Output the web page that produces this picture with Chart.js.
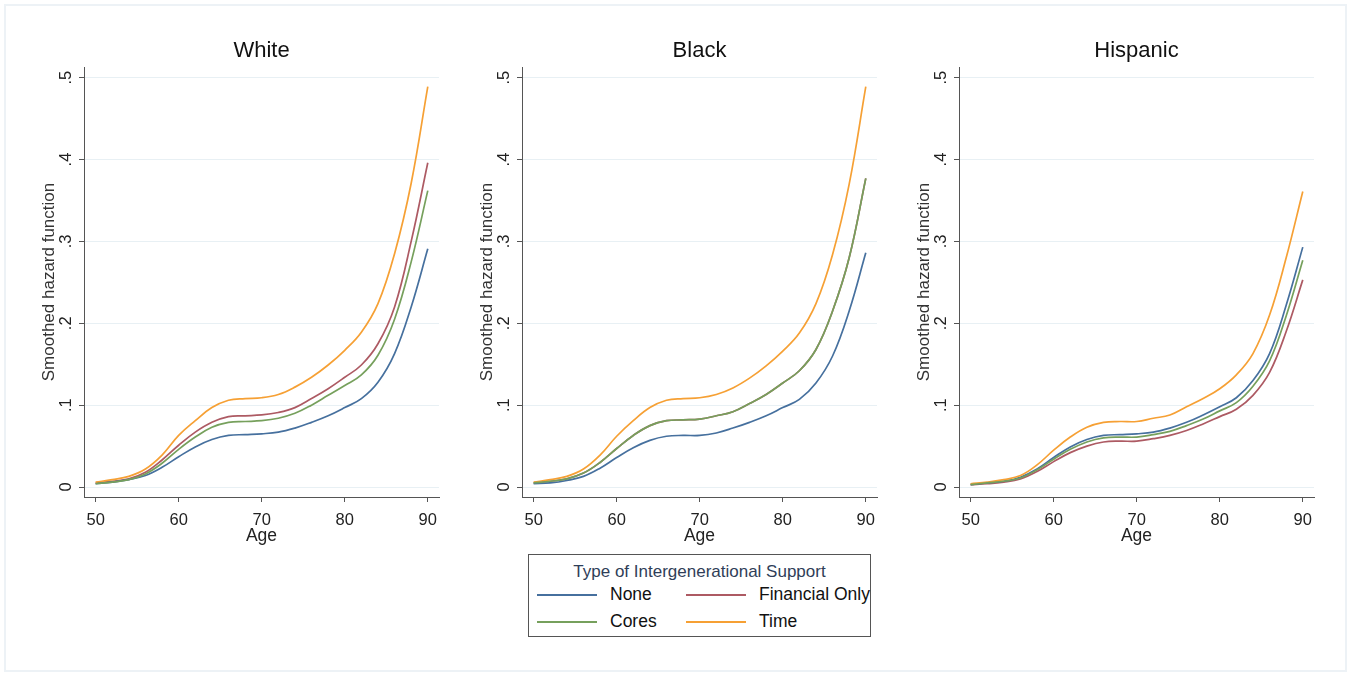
<!DOCTYPE html>
<html>
<head>
<meta charset="utf-8">
<script src="https://cdn.jsdelivr.net/npm/chart.js@4/dist/chart.umd.min.js"></script>
<style>
  html, body { margin: 0; padding: 0; background: #fff; }
  body { width: 1351px; height: 673px; position: relative; overflow: hidden; font-family: Arial, "Liberation Sans", sans-serif; }
  #frame { position: absolute; left: 4px; top: 4px; width: 1339px; height: 664px; border: 2px solid #edf2f6; }
  canvas { position: absolute; }
  #legend { position: absolute; left: 528px; top: 554px; width: 341px; height: 81px; border: 1px solid #555; background: #fff; }
  #legend .t { position: absolute; left: 0; width: 100%; text-align: center; top: 7px; font-size: 17px; line-height: 20px; color: #2f3e58; white-space: nowrap; }
  #legend .ln { position: absolute; height: 2px; width: 60px; }
  #legend .lb { position: absolute; font-size: 17.5px; line-height: 20px; color: #111; white-space: nowrap; }
</style>
</head>
<body>
<div id="frame"></div>
<canvas id="whiteChart" width="437" height="517"></canvas>
<canvas id="blackChart" width="437" height="517"></canvas>
<canvas id="hispanicChart" width="437" height="517"></canvas>
<div id="legend"></div>
<script>
// Data (every 2 years of age)
const ages = [50, 52, 54, 56, 58, 60, 62, 64, 66, 68, 70, 72, 74, 76, 78, 80, 82, 84, 86, 88, 90];

const whiteNone      = [0.004, 0.006, 0.009, 0.014, 0.024, 0.037, 0.049, 0.058, 0.063, 0.064, 0.065, 0.067, 0.072, 0.079, 0.087, 0.097, 0.108, 0.128, 0.163, 0.220, 0.291];
const whiteFinancial = [0.005, 0.007, 0.010, 0.018, 0.033, 0.051, 0.067, 0.079, 0.086, 0.087, 0.088, 0.091, 0.097, 0.108, 0.120, 0.134, 0.149, 0.175, 0.220, 0.300, 0.396];
const whiteCores     = [0.004, 0.006, 0.009, 0.016, 0.029, 0.046, 0.061, 0.073, 0.079, 0.080, 0.081, 0.084, 0.090, 0.100, 0.112, 0.124, 0.137, 0.161, 0.205, 0.275, 0.362];
const whiteTime      = [0.006, 0.009, 0.013, 0.022, 0.039, 0.063, 0.081, 0.097, 0.106, 0.108, 0.109, 0.113, 0.122, 0.134, 0.149, 0.167, 0.189, 0.224, 0.285, 0.371, 0.489];

const blackNone      = [0.004, 0.005, 0.008, 0.013, 0.023, 0.036, 0.048, 0.057, 0.062, 0.063, 0.063, 0.066, 0.072, 0.079, 0.087, 0.097, 0.107, 0.127, 0.160, 0.215, 0.286];
const blackFinancial = [0.005, 0.007, 0.010, 0.017, 0.030, 0.047, 0.063, 0.075, 0.081, 0.082, 0.083, 0.087, 0.092, 0.102, 0.113, 0.127, 0.142, 0.168, 0.215, 0.280, 0.377];
const blackCores     = [0.005, 0.007, 0.010, 0.017, 0.030, 0.047, 0.063, 0.075, 0.081, 0.082, 0.083, 0.087, 0.092, 0.102, 0.113, 0.127, 0.142, 0.168, 0.215, 0.280, 0.377];
const blackTime      = [0.006, 0.009, 0.013, 0.022, 0.039, 0.062, 0.081, 0.097, 0.106, 0.108, 0.109, 0.113, 0.121, 0.133, 0.148, 0.166, 0.188, 0.224, 0.284, 0.370, 0.489];

const hispNone       = [0.003, 0.005, 0.007, 0.012, 0.022, 0.036, 0.049, 0.058, 0.063, 0.064, 0.065, 0.067, 0.072, 0.079, 0.088, 0.098, 0.109, 0.130, 0.163, 0.222, 0.293];
const hispFinancial  = [0.003, 0.004, 0.006, 0.010, 0.019, 0.031, 0.042, 0.050, 0.055, 0.056, 0.056, 0.059, 0.063, 0.069, 0.077, 0.086, 0.095, 0.112, 0.140, 0.190, 0.253];
const hispCores      = [0.003, 0.005, 0.007, 0.011, 0.021, 0.034, 0.046, 0.055, 0.060, 0.061, 0.061, 0.064, 0.068, 0.075, 0.083, 0.093, 0.103, 0.123, 0.154, 0.209, 0.277];
const hispTime       = [0.004, 0.006, 0.009, 0.014, 0.027, 0.045, 0.061, 0.073, 0.079, 0.080, 0.080, 0.084, 0.088, 0.098, 0.108, 0.120, 0.137, 0.163, 0.210, 0.280, 0.361];

const xTicks = [50, 60, 70, 80, 90];
const yTicks = [0, 0.1, 0.2, 0.3, 0.4, 0.5];
const seriesNames = ["None", "Financial Only", "Cores", "Time"];
const seriesColors = ["#46709e", "#ad5a63", "#76a05c", "#f6a034"];

const FONT = 'Arial, "Liberation Sans", sans-serif';

// rotated y tick labels (Stata style), positioned from the y scale
const rotatedYTicks = {
  id: "rotatedYTicks",
  afterDraw(chart) {
    const scale = chart.scales.y;
    const ctx = chart.ctx;
    ctx.save();
    ctx.font = "16.5px " + FONT;
    ctx.fillStyle = "#222";
    ctx.textAlign = "center";
    ctx.textBaseline = "middle";
    scale.ticks.forEach(t => {
      const label = t.value === 0 ? "0" : String(t.value).replace(/^0/, "");
      ctx.save();
      ctx.translate(scale.right - 18, scale.getPixelForValue(t.value));
      ctx.rotate(-Math.PI / 2);
      ctx.fillText(label, 0, 0);
      ctx.restore();
    });
    ctx.restore();
  }
};

function makePanel(canvasId, axisX, title, values) {
  const canvas = document.getElementById(canvasId);
  canvas.style.left = (axisX - 70) + "px";
  canvas.style.top = "30px";
  const order = [1, 2, 0, 0];
  return new Chart(canvas, {
    type: "line",
    data: {
      datasets: values.map((vals, i) => ({
        label: seriesNames[i],
        data: ages.map((a, j) => ({ x: a, y: vals[j] })),
        borderColor: seriesColors[i],
        borderWidth: 1.7,
        pointRadius: 0,
        fill: false,
        tension: 0.4,
        order: order[i]
      }))
    },
    options: {
      responsive: false,
      animation: false,
      devicePixelRatio: 1,
      layout: { padding: { left: 0, right: 12, top: 0, bottom: 0 } },
      plugins: {
        legend: { display: false },
        tooltip: { enabled: false },
        title: {
          display: true,
          text: title,
          fullSize: false,
          color: "#111",
          font: { family: FONT, size: 22, weight: "normal", lineHeight: "24px" },
          padding: { top: 9, bottom: 4 }
        }
      },
      scales: {
        x: {
          type: "linear",
          min: 48.6,
          max: 91.35,
          afterBuildTicks: s => { s.ticks = xTicks.map(v => ({ value: v })); },
          afterFit: s => { s.height = 50; },
          ticks: { color: "#222", font: { family: FONT, size: 16.5 }, padding: 9, maxRotation: 0 },
          grid: { display: true, drawOnChartArea: false, drawTicks: true, tickLength: 5, tickColor: "#555" },
          border: { color: "#555", width: 1 },
          title: { display: true, text: "Age", color: "#222", font: { family: FONT, size: 17.5 }, padding: { top: 0, bottom: 0 } }
        },
        y: {
          type: "linear",
          min: -0.0122,
          max: 0.513,
          afterBuildTicks: s => { s.ticks = yTicks.map(v => ({ value: v })); },
          afterFit: s => { s.width = 70; },
          ticks: { display: false },
          grid: { color: "#e8f0f4", lineWidth: 1, drawTicks: true, tickLength: 5, tickColor: "#555" },
          border: { color: "#555", width: 1 },
          title: { display: true, text: "Smoothed hazard function", color: "#333", font: { family: FONT, size: 17 }, padding: { top: 25, bottom: 0 } }
        }
      }
    },
    plugins: [rotatedYTicks]
  });
}

makePanel("whiteChart", 84, "White", [whiteNone, whiteFinancial, whiteCores, whiteTime]);
makePanel("blackChart", 522, "Black", [blackNone, blackFinancial, blackCores, blackTime]);
makePanel("hispanicChart", 959, "Hispanic", [hispNone, hispFinancial, hispCores, hispTime]);

// Legend box
const legend = document.getElementById("legend");
legend.innerHTML = '<div class="t">Type of Intergenerational Support</div>';
const legendPos = [[8, 39], [157, 39], [8, 66], [157, 66]];
seriesNames.forEach((name, i) => {
  const [lx, ly] = legendPos[i];
  legend.innerHTML += `<div class="ln" style="left:${lx}px;top:${ly}px;background:${seriesColors[i]}"></div>` +
    `<div class="lb" style="left:${lx + 73}px;top:${ly - 10}px">${name}</div>`;
});
</script>
</body>
</html>
